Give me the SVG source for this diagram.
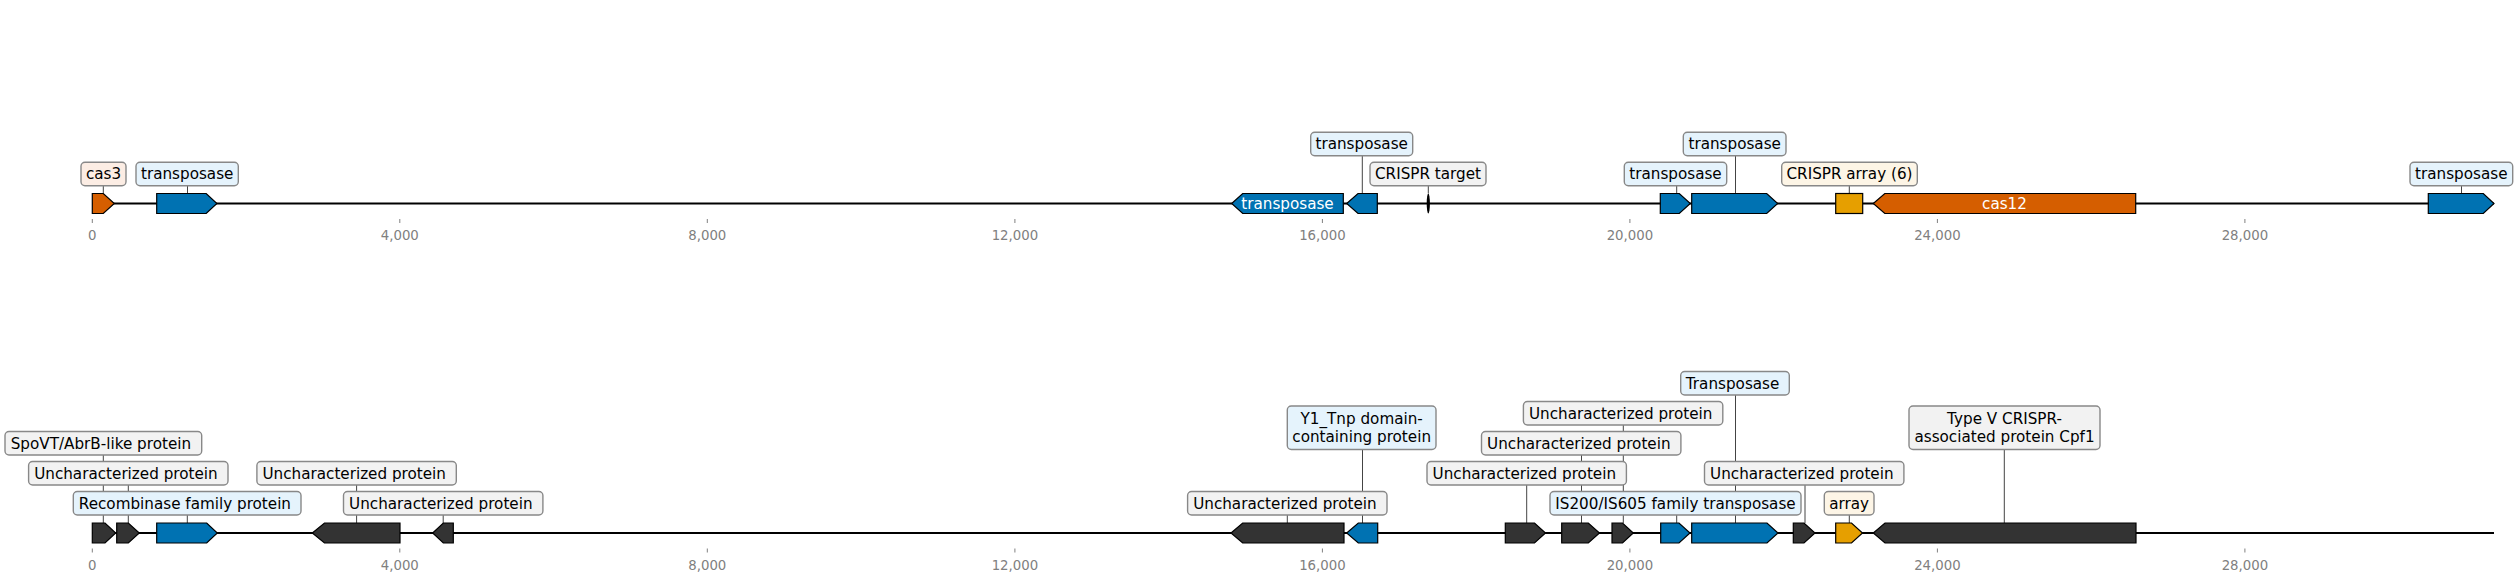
<svg xmlns="http://www.w3.org/2000/svg" width="2518" height="582" viewBox="0 0 2518 582">
<style>
text{font-family:"DejaVu Sans","Liberation Sans",sans-serif;}
.lbl{font-size:15.2px;fill:#000;text-anchor:middle;}
.in{font-size:15.2px;fill:#fff;text-anchor:middle;}
.tk{font-size:13.3px;fill:#808080;text-anchor:middle;}
.tm{stroke:#808080;stroke-width:1;}
.axis{stroke:#000;stroke-width:2;fill:none;}
.g{stroke:#000;stroke-width:1.2;stroke-linejoin:miter;}
.dk{fill:#333333;}
.bl{fill:#0072B2;}
.or{fill:#D55E00;}
.ye{fill:#E69F00;}
.box{stroke:#888888;stroke-width:1.4;}
.bgr{fill:#f2f2f2;}
.bbl{fill:#e5f3fc;}
.bor{fill:#fcede4;}
.bye{fill:#fdf5e6;}
.con{stroke:#444;stroke-width:1;fill:none;}
</style>

<!-- axes and ticks -->
<g id="axes">
<line class="axis" x1="92.3" y1="203.5" x2="2494" y2="203.5"/>
<line class="axis" x1="92.3" y1="533" x2="2494" y2="533"/>
<g id="ticks1">
<line class="tm" x1="92.3" y1="219" x2="92.3" y2="223"/><text class="tk" x="92.3" y="240">0</text>
<line class="tm" x1="399.8" y1="219" x2="399.8" y2="223"/><text class="tk" x="399.8" y="240">4,000</text>
<line class="tm" x1="707.3" y1="219" x2="707.3" y2="223"/><text class="tk" x="707.3" y="240">8,000</text>
<line class="tm" x1="1014.9" y1="219" x2="1014.9" y2="223"/><text class="tk" x="1014.9" y="240">12,000</text>
<line class="tm" x1="1322.4" y1="219" x2="1322.4" y2="223"/><text class="tk" x="1322.4" y="240">16,000</text>
<line class="tm" x1="1629.9" y1="219" x2="1629.9" y2="223"/><text class="tk" x="1629.9" y="240">20,000</text>
<line class="tm" x1="1937.4" y1="219" x2="1937.4" y2="223"/><text class="tk" x="1937.4" y="240">24,000</text>
<line class="tm" x1="2244.9" y1="219" x2="2244.9" y2="223"/><text class="tk" x="2244.9" y="240">28,000</text>
</g>
<g id="ticks2">
<line class="tm" x1="92.3" y1="548.5" x2="92.3" y2="552.5"/><text class="tk" x="92.3" y="569.5">0</text>
<line class="tm" x1="399.8" y1="548.5" x2="399.8" y2="552.5"/><text class="tk" x="399.8" y="569.5">4,000</text>
<line class="tm" x1="707.3" y1="548.5" x2="707.3" y2="552.5"/><text class="tk" x="707.3" y="569.5">8,000</text>
<line class="tm" x1="1014.9" y1="548.5" x2="1014.9" y2="552.5"/><text class="tk" x="1014.9" y="569.5">12,000</text>
<line class="tm" x1="1322.4" y1="548.5" x2="1322.4" y2="552.5"/><text class="tk" x="1322.4" y="569.5">16,000</text>
<line class="tm" x1="1629.9" y1="548.5" x2="1629.9" y2="552.5"/><text class="tk" x="1629.9" y="569.5">20,000</text>
<line class="tm" x1="1937.4" y1="548.5" x2="1937.4" y2="552.5"/><text class="tk" x="1937.4" y="569.5">24,000</text>
<line class="tm" x1="2244.9" y1="548.5" x2="2244.9" y2="552.5"/><text class="tk" x="2244.9" y="569.5">28,000</text>
</g>
</g>

<!-- connectors -->
<g id="connectors">
<line class="con" x1="103.3" y1="185.7" x2="103.3" y2="193.5"/>
<line class="con" x1="187.5" y1="185.7" x2="187.5" y2="193.5"/>
<line class="con" x1="1362.3" y1="155.7" x2="1362.3" y2="193.5"/>
<line class="con" x1="1428.3" y1="185.7" x2="1428.3" y2="193.5"/>
<line class="con" x1="1676.7" y1="185.7" x2="1676.7" y2="193.5"/>
<line class="con" x1="1735.5" y1="155.7" x2="1735.5" y2="193.5"/>
<line class="con" x1="1849.3" y1="185.7" x2="1849.3" y2="193.5"/>
<line class="con" x1="2461.5" y1="185.7" x2="2461.5" y2="193.5"/>

<line class="con" x1="103.3" y1="455" x2="103.3" y2="523"/>
<line class="con" x1="128.3" y1="485" x2="128.3" y2="523"/>
<line class="con" x1="187.3" y1="515" x2="187.3" y2="523"/>
<line class="con" x1="356.6" y1="485" x2="356.6" y2="523"/>
<line class="con" x1="443.2" y1="515" x2="443.2" y2="523"/>
<line class="con" x1="1287.3" y1="515" x2="1287.3" y2="523"/>
<line class="con" x1="1362.5" y1="449.5" x2="1362.5" y2="523"/>
<line class="con" x1="1526.7" y1="485" x2="1526.7" y2="523"/>
<line class="con" x1="1581.5" y1="455" x2="1581.5" y2="523"/>
<line class="con" x1="1623.3" y1="425" x2="1623.3" y2="523"/>
<line class="con" x1="1676.7" y1="515" x2="1676.7" y2="523"/>
<line class="con" x1="1735.5" y1="395" x2="1735.5" y2="523"/>
<line class="con" x1="1805" y1="485" x2="1805" y2="523"/>
<line class="con" x1="1849.3" y1="515" x2="1849.3" y2="523"/>
<line class="con" x1="2004.3" y1="449.5" x2="2004.3" y2="523"/>
</g>

<!-- track 1 genes -->
<g id="t1-cas3"><polygon class="g or" points="92.3,193.5 103.3,193.5 114.3,203.5 103.3,213.5 92.3,213.5"/></g>
<g id="t1-transposase1"><polygon class="g bl" points="156.7,193.5 206.2,193.5 216.9,203.5 206.2,213.5 156.7,213.5"/></g>
<g id="t1-transposase2"><polygon class="g bl" points="1231.7,203.5 1242.7,193.5 1343.3,193.5 1343.3,213.5 1242.7,213.5"/><text class="in" x="1287.5" y="209">transposase</text></g>
<g id="t1-transposase3"><polygon class="g bl" points="1346.7,203.5 1358,193.5 1377.3,193.5 1377.3,213.5 1358,213.5"/></g>
<g id="t1-crispr-target"><ellipse cx="1428.3" cy="203.5" rx="1.6" ry="10" fill="#000"/></g>
<g id="t1-transposase4"><polygon class="g bl" points="1660.3,193.5 1679.3,193.5 1690.3,203.5 1679.3,213.5 1660.3,213.5"/></g>
<g id="t1-transposase5"><polygon class="g bl" points="1691.7,193.5 1766.7,193.5 1777.7,203.5 1766.7,213.5 1691.7,213.5"/></g>
<g id="t1-crispr-array"><rect class="g ye" x="1835.7" y="193.5" width="27" height="20"/></g>
<g id="t1-cas12"><polygon class="g or" points="1873.3,203.5 1884.8,193.5 2135.7,193.5 2135.7,213.5 1884.8,213.5"/><text class="in" x="2004.5" y="209">cas12</text></g>
<g id="t1-transposase6"><polygon class="g bl" points="2428.3,193.5 2483.3,193.5 2494,203.5 2483.3,213.5 2428.3,213.5"/></g>

<!-- track 1 labels -->
<g id="t1-lbl-cas3"><rect class="box bor" x="81" y="162.3" width="45" height="23.4" rx="4"/><text class="lbl" x="103.5" y="179.4">cas3</text></g>
<g id="t1-lbl-tr1"><rect class="box bbl" x="136" y="162.3" width="102.3" height="23.4" rx="4"/><text class="lbl" x="187.2" y="179.4">transposase</text></g>
<g id="t1-lbl-tr3"><rect class="box bbl" x="1310.7" y="132.3" width="102" height="23.4" rx="4"/><text class="lbl" x="1361.7" y="149.4">transposase</text></g>
<g id="t1-lbl-target"><rect class="box bgr" x="1370" y="162.3" width="116" height="23.4" rx="4"/><text class="lbl" x="1428" y="179.4">CRISPR target</text></g>
<g id="t1-lbl-tr4"><rect class="box bbl" x="1624.3" y="162.3" width="102.4" height="23.4" rx="4"/><text class="lbl" x="1675.5" y="179.4">transposase</text></g>
<g id="t1-lbl-tr5"><rect class="box bbl" x="1683.3" y="132.3" width="102.7" height="23.4" rx="4"/><text class="lbl" x="1734.7" y="149.4">transposase</text></g>
<g id="t1-lbl-array"><rect class="box bye" x="1781.7" y="162.3" width="135.6" height="23.4" rx="4"/><text class="lbl" x="1849.5" y="179.4">CRISPR array (6)</text></g>
<g id="t1-lbl-tr6"><rect class="box bbl" x="2410" y="162.3" width="102.7" height="23.4" rx="4"/><text class="lbl" x="2461.3" y="179.4">transposase</text></g>

<!-- track 2 genes -->
<g id="t2-g1"><polygon class="g dk" points="92.3,523 105,523 115.7,533 105,543 92.3,543"/></g>
<g id="t2-g2"><polygon class="g dk" points="116.7,523 128.3,523 139.3,533 128.3,543 116.7,543"/></g>
<g id="t2-g3"><polygon class="g bl" points="156.7,523 206.7,523 217.3,533 206.7,543 156.7,543"/></g>
<g id="t2-g4"><polygon class="g dk" points="312.3,533 324.5,523 400,523 400,543 324.5,543"/></g>
<g id="t2-g5"><polygon class="g dk" points="432.7,533 443.3,523 453.3,523 453.3,543 443.3,543"/></g>
<g id="t2-g6"><polygon class="g dk" points="1231,533 1242.7,523 1344,523 1344,543 1242.7,543"/></g>
<g id="t2-g7"><polygon class="g bl" points="1346.7,533 1358.3,523 1377.7,523 1377.7,543 1358.3,543"/></g>
<g id="t2-g8"><polygon class="g dk" points="1505.3,523 1534.5,523 1545.5,533 1534.5,543 1505.3,543"/></g>
<g id="t2-g9"><polygon class="g dk" points="1561.7,523 1588.3,523 1599.5,533 1588.3,543 1561.7,543"/></g>
<g id="t2-g10"><polygon class="g dk" points="1612,523 1622.5,523 1633.3,533 1622.5,543 1612,543"/></g>
<g id="t2-g11"><polygon class="g bl" points="1660.7,523 1679,523 1690,533 1679,543 1660.7,543"/></g>
<g id="t2-g12"><polygon class="g bl" points="1691.7,523 1767,523 1778,533 1767,543 1691.7,543"/></g>
<g id="t2-g13"><polygon class="g dk" points="1793.3,523 1804,523 1815,533 1804,543 1793.3,543"/></g>
<g id="t2-g14"><polygon class="g ye" points="1835.7,523 1851.5,523 1862.5,533 1851.5,543 1835.7,543"/></g>
<g id="t2-g15"><polygon class="g dk" points="1873.3,533 1885,523 2136,523 2136,543 1885,543"/></g>

<!-- track 2 labels -->
<g id="t2-lbl-spovt"><rect class="box bgr" x="5" y="431.5" width="196.7" height="23.5" rx="4"/><text class="lbl" x="100.9" y="448.9">SpoVT/AbrB-like protein</text></g>
<g id="t2-lbl-u1"><rect class="box bgr" x="28.6" y="461.5" width="199.4" height="23.5" rx="4"/><text class="lbl" x="125.9" y="478.9">Uncharacterized protein</text></g>
<g id="t2-lbl-rec"><rect class="box bbl" x="73.3" y="491.5" width="227.7" height="23.5" rx="4"/><text class="lbl" x="184.9" y="508.9">Recombinase family protein</text></g>
<g id="t2-lbl-u2"><rect class="box bgr" x="256.9" y="461.5" width="199.4" height="23.5" rx="4"/><text class="lbl" x="354.2" y="478.9">Uncharacterized protein</text></g>
<g id="t2-lbl-u3"><rect class="box bgr" x="343.5" y="491.5" width="199.4" height="23.5" rx="4"/><text class="lbl" x="440.8" y="508.9">Uncharacterized protein</text></g>
<g id="t2-lbl-u4"><rect class="box bgr" x="1187.6" y="491.5" width="199.4" height="23.5" rx="4"/><text class="lbl" x="1284.9" y="508.9">Uncharacterized protein</text></g>
<g id="t2-lbl-y1"><rect class="box bbl" x="1287.3" y="406" width="148.7" height="43.5" rx="4"/><text class="lbl" x="1361.7" y="424.4">Y1_Tnp domain-</text><text class="lbl" x="1361.7" y="441.9">containing protein</text></g>
<g id="t2-lbl-u5"><rect class="box bgr" x="1427" y="461.5" width="199.4" height="23.5" rx="4"/><text class="lbl" x="1524.3" y="478.9">Uncharacterized protein</text></g>
<g id="t2-lbl-u6"><rect class="box bgr" x="1481.5" y="431.5" width="199.4" height="23.5" rx="4"/><text class="lbl" x="1578.8" y="448.9">Uncharacterized protein</text></g>
<g id="t2-lbl-u7"><rect class="box bgr" x="1523.4" y="401.5" width="199.4" height="23.5" rx="4"/><text class="lbl" x="1620.7" y="418.9">Uncharacterized protein</text></g>
<g id="t2-lbl-is200"><rect class="box bbl" x="1550" y="491.5" width="251" height="23.5" rx="4"/><text class="lbl" x="1675.5" y="508.9">IS200/IS605 family transposase</text></g>
<g id="t2-lbl-tnp"><rect class="box bbl" x="1680.7" y="371.5" width="108.6" height="23.5" rx="4"/><text class="lbl" x="1732.6" y="388.9">Transposase</text></g>
<g id="t2-lbl-u8"><rect class="box bgr" x="1704.5" y="461.5" width="199.4" height="23.5" rx="4"/><text class="lbl" x="1801.8" y="478.9">Uncharacterized protein</text></g>
<g id="t2-lbl-array"><rect class="box bye" x="1824.3" y="491.5" width="49.7" height="23.5" rx="4"/><text class="lbl" x="1849.2" y="508.9">array</text></g>
<g id="t2-lbl-cpf1"><rect class="box bgr" x="1909" y="406" width="191" height="43.5" rx="4"/><text class="lbl" x="2004.5" y="424.4">Type V CRISPR-</text><text class="lbl" x="2004.5" y="441.9">associated protein Cpf1</text></g>
</svg>
